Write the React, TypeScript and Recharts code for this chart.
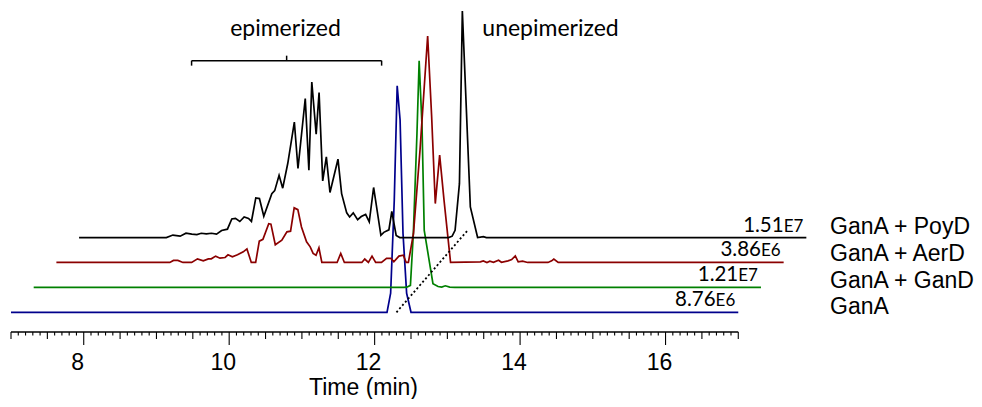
import React from 'react';
import { LineChart, Line, XAxis, YAxis, ReferenceLine } from 'recharts';

// Chromatogram traces: [retention time (min), relative signal (% of trace max)]
const GANA_TRACE: [number, number][] = [
  [7.0, 0], [12.17, 0], [12.22, 8.4], [12.27, 49.6], [12.31, 100], [12.35, 84.9],
  [12.39, 34.9], [12.44, 8.4], [12.5, 0], [17.0, 0],
];

const GAND_TRACE: [number, number][] = [
  [7.0, 0], [12.09, 0], [12.13, 0.1], [12.18, 0.9], [12.22, 23.7], [12.27, 67.9],
  [12.3, 100], [12.34, 70.8], [12.37, 25.2], [12.43, 13.4], [12.49, 1.6], [12.56, 0.4],
  [12.61, 0.1], [12.66, 0.7], [12.72, 0.1], [12.79, 0], [17.0, 0],
];

const AERD_TRACE: [number, number][] = [
  [7.0, 0], [8.56, 0], [8.61, 0.9], [8.67, 0.9], [8.74, 0], [8.86, 0], [8.94, 1.6],
  [9.02, 0.7], [9.09, 1.6], [9.13, 1.6], [9.19, 2.8], [9.25, 1.9], [9.32, 2.2],
  [9.36, 3.4], [9.42, 2.5], [9.49, 3.4], [9.57, 4.7], [9.62, 6.0], [9.68, 0], [9.74, 0],
  [9.79, 9.4], [9.84, 10.2], [9.92, 17.1], [9.95, 16.9], [10.01, 7.8], [10.1, 9.8],
  [10.17, 13.5], [10.22, 13.8], [10.27, 24.1], [10.32, 23.3], [10.37, 15.7], [10.44, 9.1],
  [10.49, 6.9], [10.53, 4.0], [10.57, 3.2], [10.61, 6.5], [10.65, 0], [10.86, 0],
  [10.91, 4.0], [10.96, 0], [11.2, 0], [11.24, 1.5], [11.29, 0], [11.34, 2.8], [11.39, 0],
  [11.47, 0], [11.54, 1.8], [11.6, 1.8], [11.64, 0.3], [11.71, 2.8], [11.77, 3.2],
  [11.81, 0], [11.84, 0], [11.91, 12.8], [12.0, 49.6], [12.105, 100], [12.16, 64.3],
  [12.21, 26.0], [12.27, 47.4], [12.33, 27.5], [12.42, 0], [12.83, 0.3], [12.87, 0.7],
  [12.92, 0], [12.96, 0.6], [13.01, 0.1], [13.08, 1.0], [13.12, 0.1], [13.21, 0.7],
  [13.26, 1.3], [13.31, 2.9], [13.35, 0.3], [13.41, 0.6], [13.48, 0], [13.76, 0],
  [13.81, 0.7], [13.84, 1.5], [13.9, 0], [17.0, 0],
];

const POYD_TRACE: [number, number][] = [
  [7.0, 0], [8.2, 0], [8.29, 1.1], [8.39, 0.6], [8.47, 1.9], [8.55, 1.5], [8.62, 1.3],
  [8.68, 1.9], [8.75, 1.6], [8.82, 1.9], [8.89, 1.5], [8.96, 3.1], [9.04, 3.7], [9.1, 8.2],
  [9.15, 8.5], [9.21, 7.1], [9.27, 9.1], [9.33, 8.4], [9.37, 7.1], [9.43, 17.5],
  [9.48, 17.2], [9.54, 9.4], [9.65, 19.4], [9.69, 20.7], [9.75, 27.5], [9.8, 21.8],
  [9.87, 32.8], [9.96, 51.0], [10.01, 30.5], [10.11, 61.4], [10.16, 29.7], [10.2, 68.7],
  [10.26, 45.6], [10.3, 64.0], [10.35, 25.0], [10.4, 35.6], [10.45, 19.9], [10.56, 34.6],
  [10.61, 19.4], [10.68, 10.9], [10.72, 9.1], [10.77, 10.9], [10.83, 7.9], [10.88, 9.3],
  [10.94, 10.2], [10.99, 6.9], [11.05, 22.1], [11.15, 1.0], [11.19, 2.3], [11.26, 3.4],
  [11.3, 11.5], [11.36, 0.9], [11.41, 0], [12.08, 0], [12.13, 0.6], [12.17, 3.2],
  [12.23, 23.8], [12.27, 100], [12.38, 13.5], [12.48, 0], [12.56, 0.4], [12.6, 0], [17.0, 0],
];

// Stacked from the bottom up; maxSignal is the raw intensity of each trace's 100%
const TRACES = [
  { name: 'GanA', data: GANA_TRACE, color: '#00008c', maxSignal: 8.76e6 },
  { name: 'GanA + GanD', data: GAND_TRACE, color: '#008000', maxSignal: 1.21e7 },
  { name: 'GanA + AerD', data: AERD_TRACE, color: '#8b0000', maxSignal: 3.86e6 },
  { name: 'GanA + PoyD', data: POYD_TRACE, color: '#000000', maxSignal: 1.51e7 },
];

const TICK_LABELS = [8, 10, 12, 14, 16];

// offset between stacked traces
const STACK_SHIFT = 0.312; // min
const STACK_LIFT = 11; // %

const X_START = 7;
const X_END = 17;
const X_DOMAIN: [number, number] = [7, 18];
const Y_DOMAIN: [number, number] = [-8.7, 134.35];

const W = 966;
const H = 391;
const MARGIN = { top: 0, right: 163, bottom: 0, left: 3 };
const AXIS_H = 67;
const PLOT_W = W - MARGIN.left - MARGIN.right;
const PLOT_H = H - AXIS_H;

const toX = (t: number) => MARGIN.left + ((t - X_DOMAIN[0]) / (X_DOMAIN[1] - X_DOMAIN[0])) * PLOT_W;
const toY = (v: number) => MARGIN.top + ((Y_DOMAIN[1] - v) / (Y_DOMAIN[1] - Y_DOMAIN[0])) * PLOT_H;

const ARIAL = '"Liberation Sans", Arial, sans-serif';
const CALIBRI = 'Lato, "Open Sans", sans-serif';

const axisTicks = Array.from({ length: (X_END - X_START) * 10 + 1 }, (_, i) => X_START + i / 10);

const splitExp = (v: number) => {
  const e = Math.floor(Math.log10(v));
  return [(v / Math.pow(10, e)).toFixed(2), `E${e}`];
};

const AxisTick = ({ x, y, payload }: any) => {
  const step = Math.round((payload.value - X_START) * 10);
  const value = X_START + step / 10;
  let len = 3.5;
  if (step % 10 === 0 && value % 2 === 0) len = 13;
  else if (step % 5 === 0) len = 7;
  const labelled = step % 10 === 0 && TICK_LABELS.includes(value);
  return (
    <g>
      <line x1={x} x2={x} y1={y} y2={y + len} stroke="#000" strokeWidth={1.1} />
      {labelled && (
        <text x={x - 6} y={y + 38} textAnchor="middle" fontFamily={ARIAL} fontSize={23} fill="#000">
          {value}
        </text>
      )}
    </g>
  );
};

export default function App() {
  const series = TRACES.map((tr, k) => ({
    ...tr,
    rows: tr.data.map(([t, v]) => ({ x: t + k * STACK_SHIFT, y: v + k * STACK_LIFT })),
  }));

  const brLeft = 9.483;
  const brRight = 12.096;
  const brMid = 10.79;
  const brY = 111.1;

  return (
    <div style={{ position: 'relative', width: W, height: H }}>
      <LineChart width={W} height={H} margin={MARGIN}>
        <XAxis
          type="number"
          dataKey="x"
          domain={X_DOMAIN}
          allowDataOverflow
          ticks={axisTicks}
          interval={0}
          axisLine={false}
          tickLine={false}
          tickSize={0}
          tickMargin={0}
          height={AXIS_H}
          tick={(props: any) => <AxisTick {...props} />}
        />
        <YAxis type="number" dataKey="y" domain={Y_DOMAIN} allowDataOverflow hide />
        <ReferenceLine
          segment={[{ x: X_START, y: Y_DOMAIN[0] }, { x: X_END, y: Y_DOMAIN[0] }]}
          stroke="#000"
          strokeWidth={1.3}
        />
        {series.map((s) => (
          <Line
            key={s.name}
            data={s.rows}
            dataKey="y"
            type="linear"
            stroke={s.color}
            strokeWidth={1.7}
            dot={false}
            isAnimationActive={false}
          />
        ))}
        {/* same retention time across the stacked traces */}
        <ReferenceLine
          segment={[{ x: 12.3, y: 0 }, { x: 13.29, y: 36.6 }]}
          stroke="#000"
          strokeWidth={1.8}
          strokeDasharray="2 2.4"
        />
        {/* bracket over the epimerized region */}
        <ReferenceLine segment={[{ x: brLeft, y: brY }, { x: brRight, y: brY }]} stroke="#000" strokeWidth={1.5} />
        <ReferenceLine segment={[{ x: brLeft, y: brY }, { x: brLeft, y: brY - 2.2 }]} stroke="#000" strokeWidth={1.5} />
        <ReferenceLine segment={[{ x: brRight, y: brY }, { x: brRight, y: brY - 2.2 }]} stroke="#000" strokeWidth={1.5} />
        <ReferenceLine segment={[{ x: brMid, y: brY }, { x: brMid, y: brY + 2.2 }]} stroke="#000" strokeWidth={1.5} />
      </LineChart>
      <svg
        width={W}
        height={H}
        style={{ position: 'absolute', left: 0, top: 0, overflow: 'visible', pointerEvents: 'none' }}
      >
        <text x={277.5} y={27.7} textAnchor="middle" fontFamily={CALIBRI} fontSize={23} fill="#000">
          epimerized
        </text>
        <text x={542.5} y={27.7} textAnchor="middle" fontFamily={CALIBRI} fontSize={23} fill="#000">
          unepimerized
        </text>
        {series.map((s, k) => {
          const [mant, exp] = splitExp(s.maxSignal);
          return (
            <text
              key={`max-${s.name}`}
              x={toX(X_END + k * STACK_SHIFT) - 3}
              y={toY(k * STACK_LIFT) - 6}
              textAnchor="end"
              fontFamily={CALIBRI}
              fontSize={20.5}
              fill="#000"
            >
              {mant}
              <tspan fontSize={17}>{exp}</tspan>
            </text>
          );
        })}
        {series.map((s, k) => (
          <text
            key={`name-${s.name}`}
            x={822}
            y={[305.5, 279.5, 253, 226][k]}
            fontFamily={ARIAL}
            fontSize={23}
            fill="#000"
          >
            {s.name}
          </text>
        ))}
        <text x={355.5} y={387} textAnchor="middle" fontFamily={ARIAL} fontSize={23} fill="#000">
          Time (min)
        </text>
      </svg>
    </div>
  );
}
